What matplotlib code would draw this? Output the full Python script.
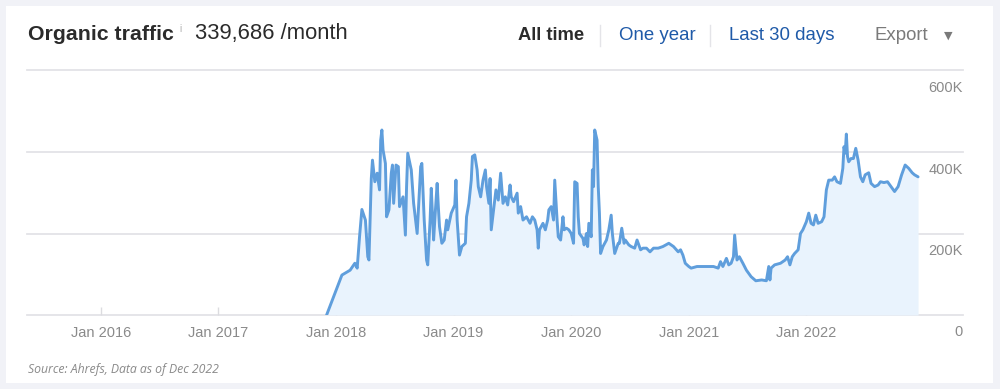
import matplotlib
matplotlib.use("Agg")
import matplotlib.pyplot as plt
from matplotlib.patches import Rectangle

# ---------------- data ----------------
# time position in decimal years, organic traffic in thousands
years = [
    2017.92, 2017.98, 2018.05, 2018.12, 2018.16, 2018.18, 2018.20, 2018.22, 2018.25, 2018.27,
    2018.28, 2018.30, 2018.31, 2018.33, 2018.35, 2018.37, 2018.38, 2018.39, 2018.40, 2018.42,
    2018.43, 2018.45, 2018.47, 2018.48, 2018.49, 2018.51, 2018.53, 2018.54, 2018.57, 2018.59,
    2018.60, 2018.61, 2018.64, 2018.66, 2018.69, 2018.72, 2018.73, 2018.75, 2018.77, 2018.78,
    2018.80, 2018.81, 2018.83, 2018.84, 2018.86, 2018.87, 2018.88, 2018.90, 2018.92, 2018.94,
    2018.95, 2018.98, 2019.01, 2019.02, 2019.03, 2019.05, 2019.07, 2019.10, 2019.11, 2019.13,
    2019.15, 2019.16, 2019.18, 2019.20, 2019.21, 2019.23, 2019.25, 2019.27, 2019.28, 2019.30,
    2019.31, 2019.32, 2019.34, 2019.36, 2019.38, 2019.40, 2019.42, 2019.44, 2019.46, 2019.48,
    2019.49, 2019.51, 2019.54, 2019.55, 2019.57, 2019.59, 2019.62, 2019.65, 2019.67, 2019.69,
    2019.71, 2019.72, 2019.73, 2019.76, 2019.78, 2019.80, 2019.81, 2019.83, 2019.85, 2019.86,
    2019.88, 2019.89, 2019.91, 2019.93, 2019.94, 2019.96, 2019.98, 2020.00, 2020.02, 2020.03,
    2020.05, 2020.06, 2020.07, 2020.10, 2020.11, 2020.13, 2020.14, 2020.15, 2020.17, 2020.18,
    2020.19, 2020.20, 2020.22, 2020.23, 2020.24, 2020.25, 2020.27, 2020.30, 2020.32, 2020.34,
    2020.35, 2020.37, 2020.40, 2020.41, 2020.43, 2020.45, 2020.46, 2020.49, 2020.51, 2020.54,
    2020.56, 2020.59, 2020.61, 2020.64, 2020.67, 2020.70, 2020.74, 2020.78, 2020.83, 2020.87,
    2020.91, 2020.93, 2020.95, 2020.97, 2021.00, 2021.02, 2021.07, 2021.11, 2021.15, 2021.21,
    2021.25, 2021.27, 2021.29, 2021.32, 2021.34, 2021.36, 2021.38, 2021.39, 2021.41, 2021.43,
    2021.46, 2021.49, 2021.53, 2021.57, 2021.62, 2021.66, 2021.68, 2021.69, 2021.70, 2021.73,
    2021.78, 2021.82, 2021.84, 2021.86, 2021.88, 2021.90, 2021.93, 2021.95, 2021.97, 2022.00,
    2022.02, 2022.04, 2022.06, 2022.08, 2022.10, 2022.13, 2022.15, 2022.17, 2022.19, 2022.22,
    2022.24, 2022.26, 2022.29, 2022.31, 2022.32, 2022.33, 2022.34, 2022.35, 2022.36, 2022.38,
    2022.40, 2022.42, 2022.44, 2022.46, 2022.48, 2022.50, 2022.53, 2022.55, 2022.58, 2022.61,
    2022.63, 2022.66, 2022.69, 2022.73, 2022.75, 2022.78, 2022.81, 2022.84, 2022.87, 2022.90,
    2022.92, 2022.95,
]
traffic_k = [
    0, 45, 98, 110, 127, 115, 192, 259, 233, 143,
    135, 335, 380, 327, 348, 307, 429, 454, 405, 372,
    241, 258, 348, 368, 274, 368, 364, 266, 290, 196,
    315, 397, 356, 274, 200, 364, 372, 233, 135, 123,
    233, 311, 184, 233, 323, 266, 217, 176, 184, 233,
    209, 250, 270, 331, 233, 147, 168, 176, 241, 274,
    331, 389, 393, 356, 315, 290, 331, 356, 315, 274,
    335, 209, 258, 307, 282, 348, 274, 290, 270, 319,
    290, 278, 299, 250, 266, 233, 241, 225, 241, 233,
    209, 164, 209, 225, 209, 233, 258, 266, 233, 331,
    233, 192, 184, 241, 209, 213, 209, 200, 176, 327,
    323, 241, 200, 188, 172, 200, 168, 225, 192, 356,
    315, 454, 429, 315, 250, 151, 168, 184, 209, 245,
    200, 151, 176, 176, 213, 176, 184, 172, 168, 164,
    184, 160, 164, 164, 155, 164, 164, 168, 176, 168,
    155, 160, 147, 127, 119, 115, 119, 119, 119, 119,
    115, 131, 119, 139, 123, 127, 143, 196, 135, 143,
    127, 110, 94, 84, 86, 84, 119, 86, 115, 123,
    127, 135, 143, 123, 143, 151, 160, 200, 209, 229,
    250, 225, 221, 245, 225, 229, 241, 307, 331, 331,
    339, 327, 323, 360, 413, 397, 444, 389, 376, 384,
    384, 409, 380, 339, 327, 344, 349, 323, 315, 319,
    327, 325, 327, 311, 303, 315, 344, 368, 360, 349,
    344, 339,
]
tick_years = [2016, 2017, 2018, 2019, 2020, 2021, 2022]
tick_labels = ["Jan 2016", "Jan 2017", "Jan 2018", "Jan 2019", "Jan 2020", "Jan 2021", "Jan 2022"]
y_levels = [0, 200, 400, 600]
y_labels = ["0", "200K", "400K", "600K"]

# ---------------- figure ----------------
W, H = 1000, 389
plt.rcParams["font.family"] = ["Liberation Sans", "DejaVu Sans"]
fig = plt.figure(figsize=(W / 100, H / 100), dpi=100)
fig.patch.set_facecolor("#f1f2f7")

def fx(px):
    return px / W

def fy(py):
    return 1 - py / H

# white card
card = Rectangle((fx(6), fy(383)), fx(993) - fx(6), fy(6) - fy(383),
                 transform=fig.transFigure, facecolor="white",
                 edgecolor="none", zorder=-10)
fig.add_artist(card)

ax = fig.add_axes([fx(27), fy(315), fx(963) - fx(27), fy(70.5) - fy(315)])
ax.set_zorder(5)
ax.patch.set_alpha(0)
ax.set_xlim(2015.372, 2023.332)
ax.set_ylim(0, 600)

for v in y_levels:
    ax.axhline(v, color="#e3e3e7", lw=1.3, zorder=1, clip_on=False)

ax.fill_between(years, traffic_k, 0, color="#e9f3fd", lw=0, zorder=2)
ax.plot(years, traffic_k, color="#5f9edc", lw=2.1, zorder=3,
        solid_joinstyle="round", solid_capstyle="round")

for s in ax.spines.values():
    s.set_visible(False)

ax.set_xticks(tick_years)
ax.set_xticklabels(tick_labels)
ax.tick_params(axis="x", direction="in", length=6, width=1, color="#dcdce0",
               labelcolor="#8a8a8a", labelsize=10.5, pad=8)
ax.set_yticks([])

for v, lab in zip(y_levels, y_labels):
    ax.annotate(lab, xy=(1.0, v), xycoords=ax.get_yaxis_transform(),
                xytext=(0, -17.5), textcoords="offset pixels",
                ha="right", va="center", fontsize=10.5, color="#8a8a8a",
                annotation_clip=False)

# header
fig.text(fx(28), fy(34), "Organic traffic", fontsize=15.3, fontweight="bold",
         color="#2b2b2b", ha="left", va="center")
fig.text(fx(179), fy(29), "i", fontsize=7, color="#b0b0b0", ha="left", va="center")
fig.text(fx(195), fy(34), "339,686 /month", fontsize=15.8, color="#2b2b2b",
         ha="left", va="center")

fig.text(fx(518), fy(36), "All time", fontsize=13.2, fontweight="bold",
         color="#2b2b2b", ha="left", va="center")
fig.text(fx(619), fy(36), "One year", fontsize=13.4, color="#1f5aa8",
         ha="left", va="center")
fig.text(fx(729), fy(36), "Last 30 days", fontsize=13.4, color="#1f5aa8",
         ha="left", va="center")
fig.text(fx(875), fy(36), "Export", fontsize=13.4, color="#7a7a7a",
         ha="left", va="center")
fig.text(fx(948), fy(36), "▼", fontsize=8, color="#7a7a7a", ha="center", va="center",
         family=["DejaVu Sans"])
for sx in (599.5, 709.5):
    fig.add_artist(plt.Line2D([fx(sx), fx(sx)], [fy(25), fy(46)],
                              transform=fig.transFigure, color="#e4e4e8", lw=1))

# source
fig.text(fx(28), fy(369), "Source: Ahrefs, Data as of Dec 2022", fontsize=8.8,
         style="italic", color="#8a8a8a", ha="left", va="center",
         family=["Open Sans", "DejaVu Sans"])

fig.savefig("out.png", dpi=100, facecolor=fig.get_facecolor())
